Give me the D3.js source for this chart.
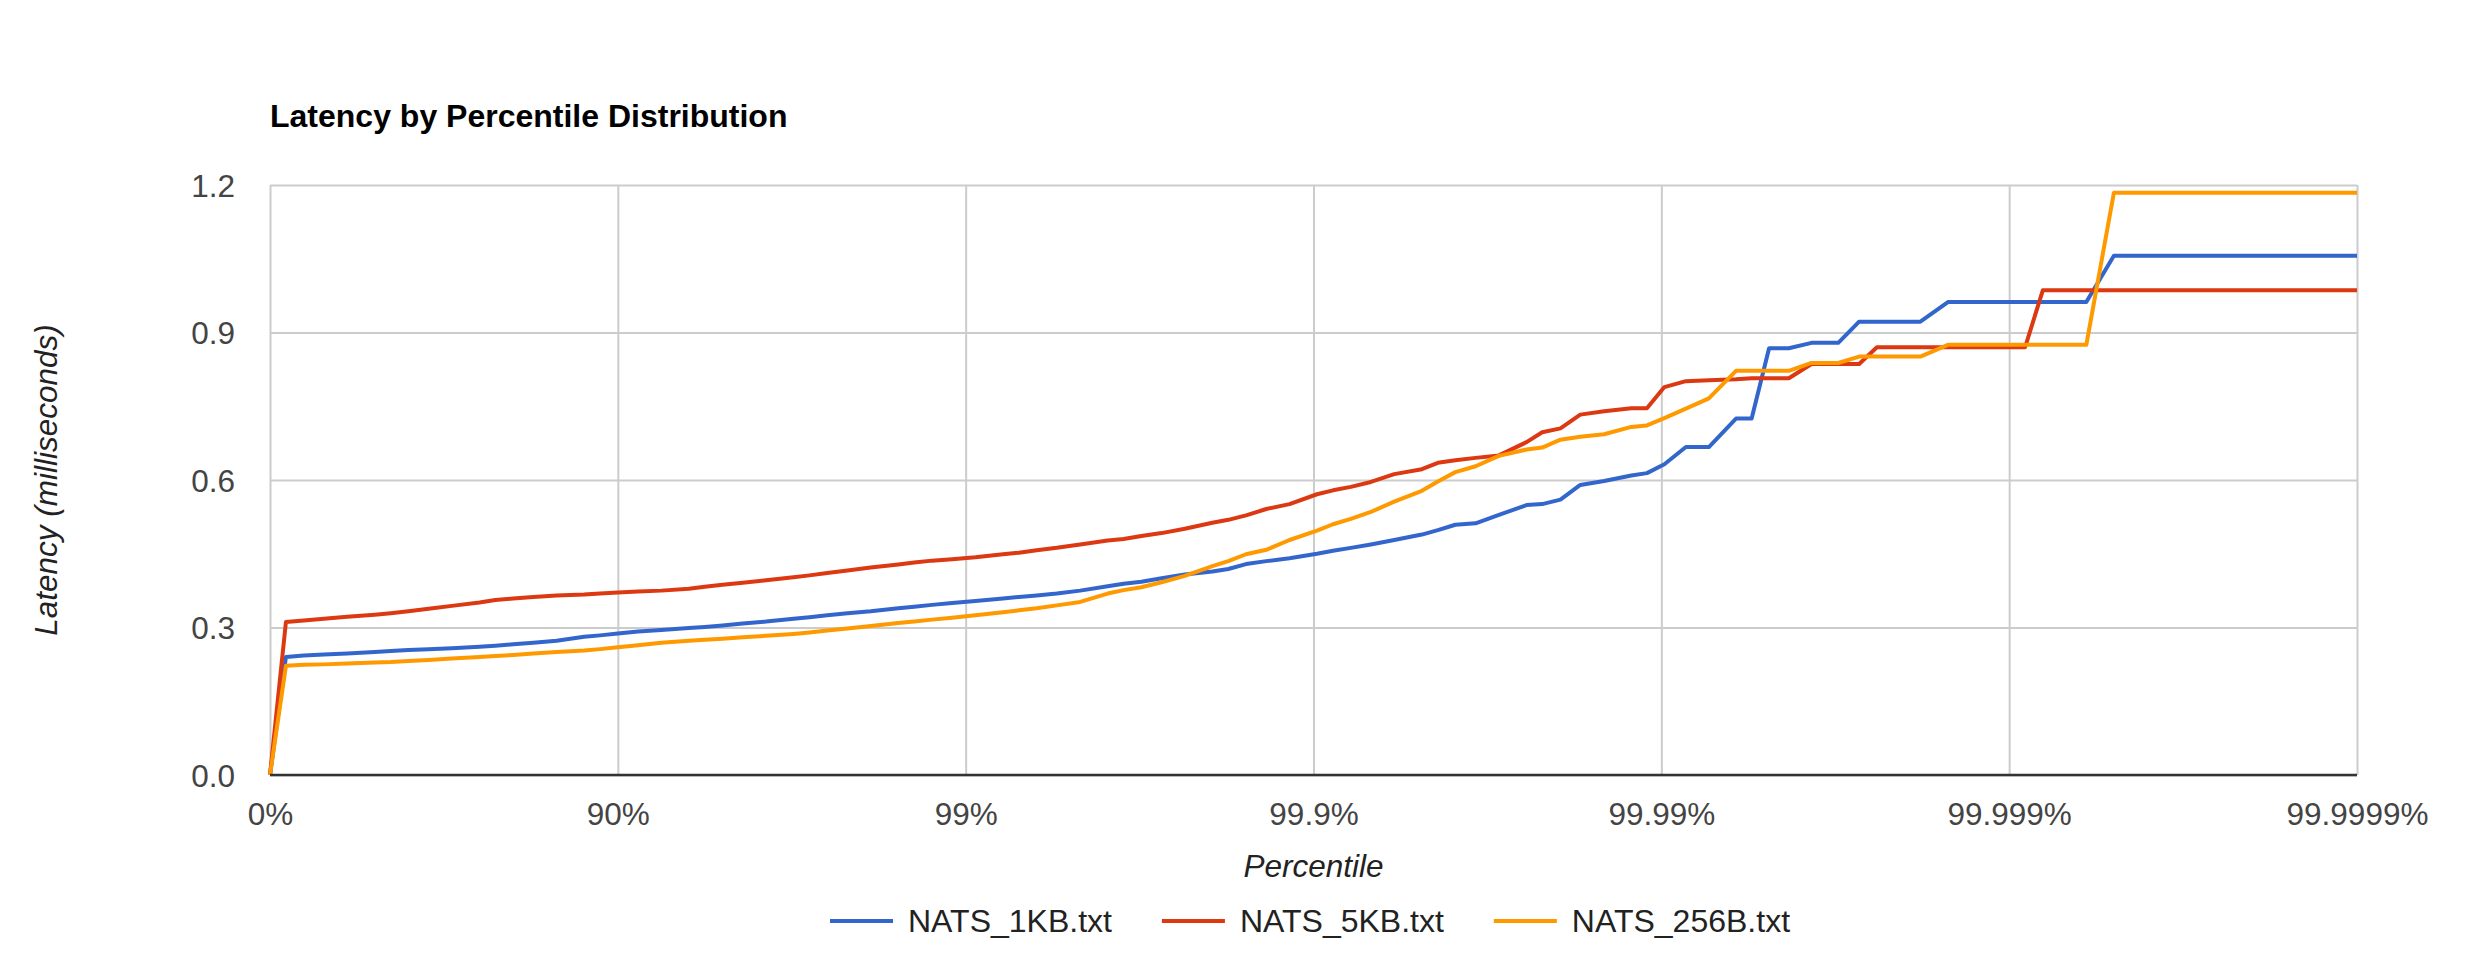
<!DOCTYPE html>
<html><head><meta charset="utf-8">
<script src="https://cdn.jsdelivr.net/npm/d3@7"></script>
<style>body{margin:0;background:#fff}</style>
</head><body>
<svg id="chart" width="2474" height="960"></svg>
<script>
// Percentile levels reported (logarithmic scale used by the benchmark writer)
const percentiles = [0.0,10.0,20.0,30.0,40.0,50.0,55.0,60.0,65.0,70.0,75.0,77.5,80.0,82.5,85.0,87.5,88.75,90.0,91.25,92.5,93.75,94.375,95.0,95.625,96.25,96.875,97.1875,97.5,97.8125,98.125,98.4375,98.5938,98.75,98.9062,99.0625,99.2188,99.2969,99.375,99.4531,99.5313,99.6094,99.6484,99.6875,99.7266,99.7656,99.8047,99.8242,99.8437,99.8633,99.8828,99.9023,99.9121,99.9219,99.9316,99.9414,99.9512,99.9561,99.9609,99.9658,99.9707,99.9756,99.978,99.9805,99.9829,99.9854,99.9878,99.989,99.9902,99.9915,99.9927,99.9939,99.9945,99.9951,99.9957,99.9963,99.9969,99.9973,99.9976,99.9979,99.9982,99.9985,99.9986,99.9988,99.9989,99.9991,99.9992,99.9993,99.9994,99.9995,99.9996,99.9997,99.9998,99.9999];

// Latency (milliseconds) per percentile level
const nats1KB = [0,0.240,0.243,0.245,0.247,0.250,0.252,0.254,0.256,0.258,0.261,0.263,0.266,0.269,0.273,0.281,0.284,0.288,0.292,0.295,0.299,0.301,0.304,0.308,0.312,0.318,0.321,0.325,0.329,0.333,0.339,0.342,0.346,0.350,0.354,0.359,0.362,0.365,0.369,0.375,0.384,0.389,0.393,0.400,0.408,0.414,0.419,0.429,0.435,0.441,0.450,0.456,0.462,0.469,0.478,0.489,0.498,0.509,0.512,0.529,0.549,0.551,0.560,0.590,0.598,0.609,0.614,0.632,0.667,0.667,0.725,0.725,0.868,0.868,0.879,0.879,0.922,0.922,0.922,0.922,0.962,0.962,0.962,0.962,0.962,0.962,0.962,0.962,1.056,1.056,1.056,1.056,1.056];
const nats5KB = [0,0.311,0.314,0.318,0.322,0.326,0.329,0.333,0.338,0.344,0.351,0.356,0.359,0.362,0.365,0.367,0.369,0.371,0.373,0.375,0.379,0.383,0.387,0.391,0.396,0.402,0.406,0.411,0.416,0.422,0.428,0.432,0.436,0.439,0.443,0.449,0.452,0.457,0.462,0.469,0.477,0.480,0.486,0.492,0.501,0.513,0.519,0.528,0.541,0.551,0.571,0.579,0.586,0.596,0.612,0.622,0.635,0.640,0.645,0.650,0.677,0.697,0.705,0.733,0.740,0.746,0.746,0.789,0.801,0.803,0.805,0.807,0.807,0.807,0.836,0.836,0.836,0.870,0.870,0.870,0.870,0.870,0.870,0.870,0.870,0.986,0.986,0.986,0.986,0.986,0.986,0.986,0.986];
const nats256B = [0,0.222,0.224,0.225,0.227,0.229,0.230,0.232,0.234,0.237,0.240,0.242,0.244,0.247,0.250,0.253,0.256,0.260,0.264,0.269,0.273,0.275,0.277,0.280,0.283,0.287,0.290,0.294,0.298,0.303,0.309,0.312,0.316,0.320,0.325,0.331,0.335,0.339,0.345,0.352,0.369,0.376,0.382,0.392,0.405,0.425,0.435,0.449,0.458,0.478,0.497,0.510,0.521,0.535,0.556,0.578,0.597,0.616,0.628,0.649,0.662,0.666,0.682,0.688,0.693,0.708,0.711,0.726,0.745,0.766,0.822,0.822,0.822,0.822,0.838,0.838,0.851,0.851,0.851,0.851,0.875,0.875,0.875,0.875,0.875,0.875,0.875,0.875,1.184,1.184,1.184,1.184,1.184];

const seriesNames = ["NATS_1KB.txt", "NATS_5KB.txt", "NATS_256B.txt"];
const seriesValues = [nats1KB, nats5KB, nats256B];
const seriesColors = ["#3366cc", "#dc3912", "#ff9900"];

const xTickValues = [1, 10, 100, 1000, 10000, 100000, 1000000];
const xTickLabels = ["0%", "90%", "99%", "99.9%", "99.99%", "99.999%", "99.9999%"];
const yTickValues = [0, 0.3, 0.6, 0.9, 1.2];

const chartTitle = "Latency by Percentile Distribution";
const xTitle = "Percentile";
const yTitle = "Latency (milliseconds)";

const FONT = "Arial, 'Liberation Sans', sans-serif";
const plot = {left: 270, right: 2357, top: 185, bottom: 775};

const svg = d3.select("#chart");
svg.append("rect").attr("width", 2474).attr("height", 960).attr("fill", "#fff");

const x = d3.scaleLog().domain([1, 1e6]).range([plot.left, plot.right]);
const y = d3.scaleLinear().domain([0, 1.2]).range([plot.bottom, plot.top]);

// Y grid + labels
const yAxis = svg.append("g")
  .attr("transform", `translate(${plot.left},0)`)
  .call(d3.axisLeft(y).tickValues(yTickValues).tickFormat(d3.format(".1f"))
        .tickSize(-(plot.right - plot.left)).tickPadding(35));
yAxis.select(".domain").remove();
yAxis.selectAll(".tick line").attr("stroke", "#cccccc").attr("stroke-width", 2);
yAxis.selectAll(".tick text").attr("font-family", FONT).attr("font-size", 31.5)
  .attr("fill", "#444").attr("dy", "0.36em");

// X grid + labels
const xAxis = svg.append("g")
  .attr("transform", `translate(0,${plot.bottom})`)
  .call(d3.axisBottom(x).tickValues(xTickValues).tickFormat((d, i) => xTickLabels[i])
        .tickSize(-(plot.bottom - plot.top)).tickPadding(27.5));
xAxis.select(".domain").remove();
xAxis.selectAll(".tick line").attr("stroke", "#cccccc").attr("stroke-width", 2);
xAxis.selectAll(".tick text").attr("font-family", FONT).attr("font-size", 31.5)
  .attr("fill", "#444").attr("dy", "0.71em");

// Series lines
const line = d3.line()
  .x((d, i) => x(1 / (1 - percentiles[i] / 100)))
  .y(d => y(d));

seriesValues.forEach((vals, s) => {
  svg.append("path")
    .datum(vals)
    .attr("fill", "none")
    .attr("stroke", seriesColors[s])
    .attr("stroke-width", 4)
    .attr("stroke-linejoin", "round")
    .attr("d", line);
});

// Baseline
svg.append("line")
  .attr("x1", plot.left).attr("x2", plot.right)
  .attr("y1", y(0)).attr("y2", y(0))
  .attr("stroke", "#333").attr("stroke-width", 2.5);

// Title
svg.append("text").attr("x", plot.left).attr("y", 127)
  .attr("font-family", FONT).attr("font-size", 32).attr("font-weight", "bold")
  .attr("fill", "#000").text(chartTitle);

// Axis titles
svg.append("text").attr("x", (plot.left + plot.right) / 2).attr("y", 877)
  .attr("text-anchor", "middle").attr("font-family", FONT).attr("font-size", 31.5)
  .attr("font-style", "italic").attr("fill", "#222").text(xTitle);

svg.append("text")
  .attr("transform", `translate(57,${(plot.top + plot.bottom) / 2}) rotate(-90)`)
  .attr("text-anchor", "middle").attr("font-family", FONT).attr("font-size", 31.5)
  .attr("font-style", "italic").attr("fill", "#222").text(yTitle);

// Legend
const legend = svg.append("g");
let lx = 830;
seriesNames.forEach((name, s) => {
  legend.append("line").attr("x1", lx).attr("x2", lx + 63)
    .attr("y1", 921).attr("y2", 921)
    .attr("stroke", seriesColors[s]).attr("stroke-width", 4);
  const t = legend.append("text").attr("x", lx + 78).attr("y", 932)
    .attr("font-family", FONT).attr("font-size", 32).attr("fill", "#222").text(name);
  lx = lx + 78 + t.node().getComputedTextLength() + 50;
});
</script>
</body></html>
